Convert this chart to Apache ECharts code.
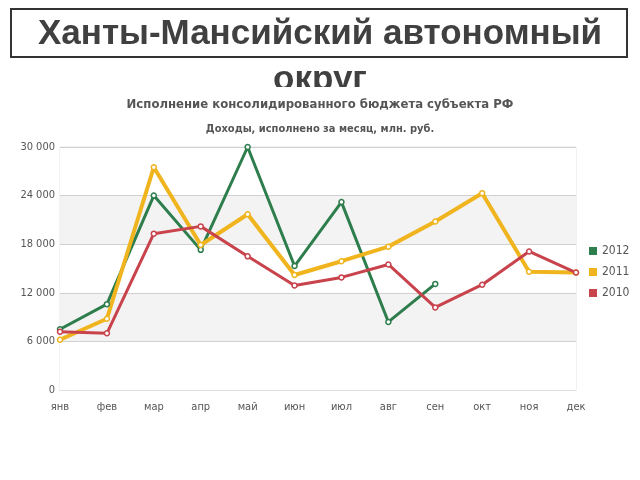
<!DOCTYPE html>
<html><head><meta charset="utf-8">
<script src="https://cdn.jsdelivr.net/npm/echarts@6/dist/echarts.min.js"></script>
<style>html,body{margin:0;padding:0;background:#fff}#c{width:640px;height:480px}</style>
</head><body><div id="c"></div>
<script>
const months = ['янв','фев','мар','апр','май','июн','июл','авг','сен','окт','ноя','дек'];
const y2012 = [7500, 10600, 24000, 17300, 30000, 15300, 23200, 8400, 13100, null, null, null];
const y2011 = [6200, 8800, 27500, 17900, 21700, 14200, 15900, 17700, 20800, 24300, 14600, 14500];
const y2010 = [7200, 7000, 19300, 20200, 16500, 12900, 13900, 15500, 10200, 13000, 17100, 14500];
const yTicks = [0, 6000, 12000, 18000, 24000, 30000];
const colors = { '2012': '#2e7d4c', '2011': '#f0b51e', '2010': '#c8434b' };

const chart = echarts.init(document.getElementById('c'));
const fnt = '"DejaVu Sans Condensed", "Liberation Sans Narrow", Arial, sans-serif';
function mk(name, data, color, width) {
  return {
    name, type: 'line', data, connectNulls: false,
    symbol: 'circle', symbolSize: 5, showSymbol: true,
    lineStyle: { color, width },
    itemStyle: { color: '#fff', borderColor: color, borderWidth: 1.5 },
    emphasis: { disabled: true }, animation: false, z: 3
  };
}
chart.setOption({
  animation: false,
  backgroundColor: '#fff',
  title: [
    { text: 'Исполнение консолидированного бюджета субъекта РФ', left: 'center', top: 93, z: 10,
      textStyle: { fontFamily: fnt, fontSize: 13, fontWeight: 'bold', color: '#555' } },
    { text: 'Доходы, исполнено за месяц, млн. руб.', left: 'center', top: 119, z: 10,
      textStyle: { fontFamily: fnt, fontSize: 11, fontWeight: 'bold', color: '#555' } }
  ],
  graphic: [
    { type: 'text', left: 'center', top: 63, z: 1,
      style: { text: 'округ', font: 'bold 35px "Liberation Sans", Arial, sans-serif', fill: '#404040' } },
    { type: 'rect', shape: { x: 0, y: 87, width: 640, height: 14 }, z: 2, style: { fill: '#fff' } },
    { type: 'rect', shape: { x: 11, y: 9, width: 616, height: 48 }, z: 5,
      style: { fill: '#fff', stroke: '#333', lineWidth: 2 } },
    { type: 'text', left: 'center', top: 17, z: 6,
      style: { text: 'Ханты-Мансийский автономный', font: 'bold 35px "Liberation Sans", Arial, sans-serif', fill: '#404040' } }
  ],
  legend: {
    orient: 'vertical', left: 584, top: 240, itemWidth: 8, itemHeight: 8, itemGap: 9,
    icon: 'rect',
    data: ['2012', '2011', '2010'].map(n => ({ name: n, itemStyle: { color: colors[n], borderWidth: 0 } })),
    textStyle: { fontFamily: fnt, fontSize: 12, color: '#555' }
  },
  grid: { left: 60, right: 64, top: 147, bottom: 90, show: true, borderColor: '#e4e4e4', borderWidth: 1 },
  xAxis: {
    type: 'category', data: months, boundaryGap: false,
    axisLine: { show: true, lineStyle: { color: '#ddd' } }, axisTick: { show: false },
    axisLabel: { fontFamily: fnt, fontSize: 11, color: '#555', margin: 12 }
  },
  yAxis: {
    type: 'value', min: yTicks[0], max: yTicks[yTicks.length - 1], interval: 6000,
    axisLine: { show: false }, axisTick: { show: false },
    axisLabel: { fontFamily: fnt, fontSize: 11, color: '#555', margin: 5,
      formatter: v => v === 0 ? '0' : String(v).replace(/\B(?=(\d{3})+(?!\d))/g, ' ') },
    splitLine: { lineStyle: { color: '#d0d0d0', width: 1 } },
    splitArea: { show: true, areaStyle: { color: ['#fff', '#f3f3f3'] } }
  },
  series: [
    mk('2012', y2012, colors['2012'], 3),
    mk('2011', y2011, colors['2011'], 4),
    mk('2010', y2010, colors['2010'], 3)
  ]
});
</script></body></html>
